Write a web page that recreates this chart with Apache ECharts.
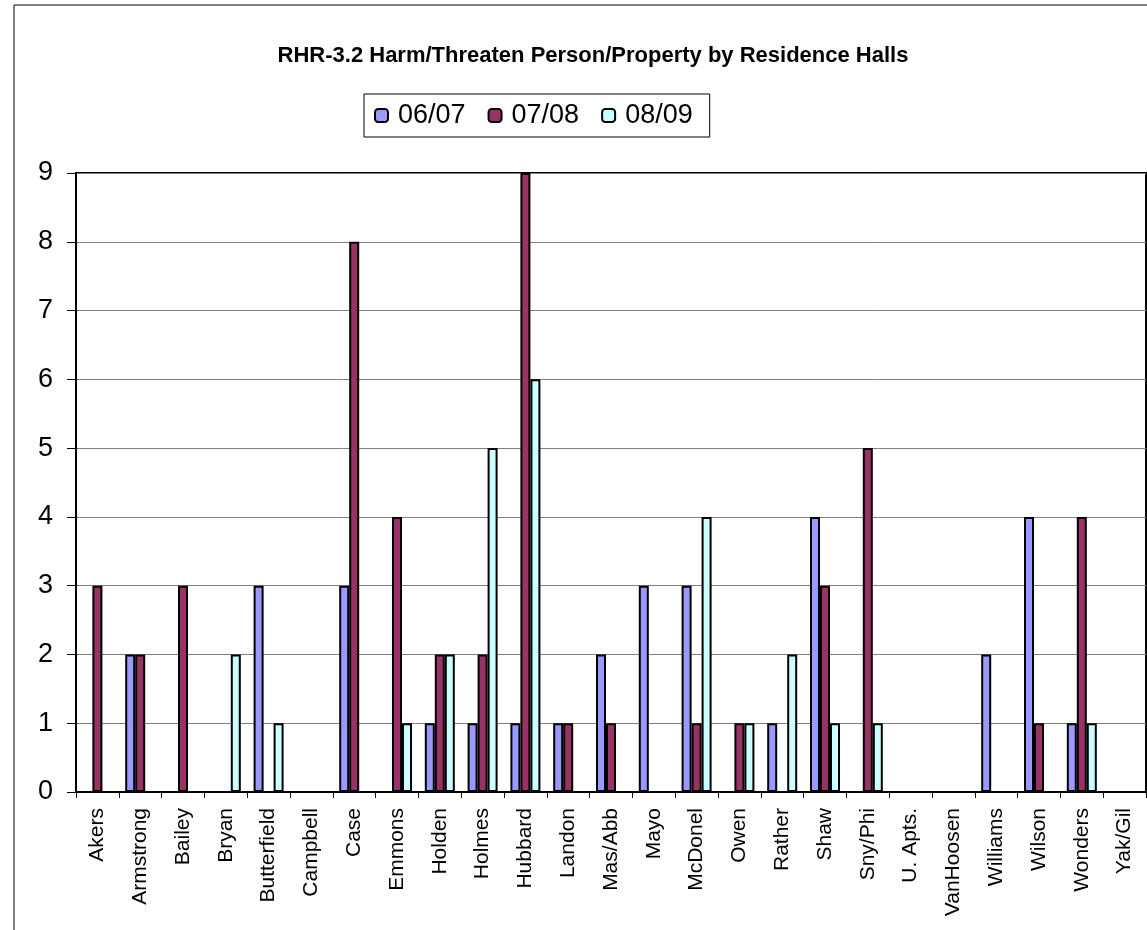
<!DOCTYPE html>
<html>
<head>
<meta charset="utf-8">
<script src="https://cdn.jsdelivr.net/npm/echarts@6/dist/echarts.min.js"></script>
<style>
  html, body { margin: 0; padding: 0; background: #fff; }
  #chartDiv { width: 1147px; height: 930px; }
</style>
</head>
<body>
<div id="chartDiv"></div>
<script>
var halls = ['Akers', 'Armstrong', 'Bailey', 'Bryan', 'Butterfield', 'Campbell', 'Case', 'Emmons',
  'Holden', 'Holmes', 'Hubbard', 'Landon', 'Mas/Abb', 'Mayo', 'McDonel', 'Owen', 'Rather', 'Shaw',
  'Sny/Phi', 'U. Apts.', 'VanHoosen', 'Williams', 'Wilson', 'Wonders', 'Yak/Gil'];
var years = ['06/07', '07/08', '08/09'];
var y0607 = [0, 2, 0, 0, 3, 0, 3, 0, 1, 1, 1, 1, 2, 3, 3, 0, 1, 4, 0, 0, 0, 2, 4, 1, 0];
var y0708 = [3, 2, 3, 0, 0, 0, 8, 4, 2, 2, 9, 1, 1, 0, 1, 1, 0, 3, 5, 0, 0, 0, 1, 4, 0];
var y0809 = [0, 0, 0, 2, 1, 0, 0, 1, 2, 5, 6, 0, 0, 0, 4, 1, 2, 1, 1, 0, 0, 0, 0, 1, 0];
var colors = ['#9999FF', '#993366', '#CCFFFF'];

var chart = echarts.init(document.getElementById('chartDiv'), null, {});

function barSeries(name, data, color) {
  return {
    name: name,
    type: 'bar',
    data: data,
    barWidth: 10,
    barGap: '0%',
    itemStyle: { color: color, borderColor: '#000', borderWidth: 2 },
    emphasis: { disabled: true }
  };
}

var option = {
  animation: false,
  backgroundColor: '#fff',
  textStyle: { fontFamily: 'Liberation Sans, Arial, sans-serif', color: '#000' },
  title: {
    text: 'RHR-3.2 Harm/Threaten Person/Property by Residence Halls',
    left: 588,
    top: 40,
    textAlign: 'center',
    textStyle: { fontSize: 22, fontWeight: 'bold', color: '#000', fontFamily: 'Liberation Sans, Arial, sans-serif' }
  },
  legend: {
    data: years,
    left: 364,
    top: 94,
    padding: [8, 17, 8, 10],
    itemGap: 22,
    itemWidth: 13,
    itemHeight: 13,
    borderColor: '#000',
    borderWidth: 1,
    textStyle: { fontSize: 27, color: '#000', padding: [0, 0, 0, 5] },
    itemStyle: { borderColor: '#000', borderWidth: 2 },
    selectedMode: false
  },
  grid: {
    left: 76,
    top: 173,
    right: 1,
    bottom: 138,
    show: true,
    borderColor: '#000',
    borderWidth: 2
  },
  xAxis: {
    type: 'category',
    data: halls,
    axisLine: { lineStyle: { color: '#000', width: 2 } },
    axisTick: { show: true, interval: 0, length: 6, lineStyle: { color: '#000', width: 1 } },
    axisLabel: { interval: 0, rotate: 90, fontSize: 21, color: '#000', margin: 16 }
  },
  yAxis: {
    type: 'value',
    min: 0,
    max: 9,
    interval: 1,
    axisLine: { show: true, lineStyle: { color: '#000', width: 2 } },
    axisTick: { show: true, length: 9, lineStyle: { color: '#000' } },
    axisLabel: { fontSize: 27, color: '#000', margin: 23 },
    splitLine: { lineStyle: { color: '#808080', width: 1 } }
  },
  graphic: [{
    type: 'rect',
    shape: { x: 14, y: 5, width: 1150, height: 940 },
    style: { fill: 'none', stroke: '#000', lineWidth: 1 },
    silent: true,
    z: -1
  }],
  series: [
    barSeries(years[0], y0607, colors[0]),
    barSeries(years[1], y0708, colors[1]),
    barSeries(years[2], y0809, colors[2])
  ]
};

chart.setOption(option);
window.addEventListener('resize', function () {
  chart.resize();
});
</script>
</body>
</html>
